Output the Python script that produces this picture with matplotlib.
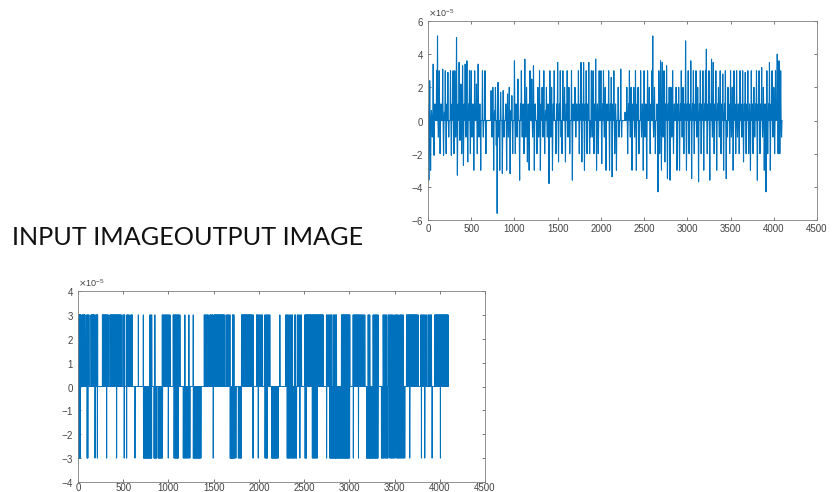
import matplotlib
matplotlib.use("Agg")
import matplotlib.pyplot as plt
import numpy as np
from matplotlib.ticker import ScalarFormatter

# input signal: one value every 10 samples (units of 1e-5), back to 0 in between
in_step = 10
in_vals = [
    1.0, -3.6, 2.4, -3.0, 0.6, -1.0, 3.4, -2.1, 1.0, 0,
    3.0, 5.1, -1.0, 3.0, -2.0, 1.0, 0, 3.1, -2.1, 0.5,
    3.0, -2.0, 1.0, 2.9, -1.0, 0, 3.0, -2.1, 1.0, 3.0,
    -2.0, 3.0, -1.0, 5.0, -3.3, 1.0, 3.5, -1.2, 2.2, -2.0,
    3.3, -2.7, 1.0, 3.4, -1.0, 3.6, -2.5, 1.0, 3.0, -2.0,
    3.0, -1.0, 1.0, -3.0, 3.0, 0, 2.2, -2.0, 3.4, -1.0,
    1.0, -3.0, 0, 3.0, -1.0, 0, 3.0, -2.0, 0, 0,
    0, 0, 0, 1.8, -1.0, 2.0, -3.0, 0.6, 2.0, -1.5,
    -5.6, 2.3, -1.0, -3.0, 1.7, 0, -3.2, 1.8, -1.0, 0,
    1.0, -3.0, 1.6, -1.0, 2.0, -3.2, 0.6, 1.5, -2.0, 0,
    3.6, -2.0, 1.0, -1.0, 2.5, 0, -3.6, 1.0, 3.0, -1.0,
    1.0, -2.0, 3.7, -1.0, 2.0, -2.5, 1.0, -3.0, 3.0, 0,
    2.5, -1.0, 3.3, -3.0, 1.0, 0, -2.0, 2.0, -1.0, 3.0,
    -3.0, 1.0, 2.0, -1.0, 3.0, -2.0, 0.6, 2.0, -1.0, 1.0,
    -3.8, 3.0, -1.0, 2.0, -3.0, 1.0, 3.0, 0, -2.0, 1.0,
    3.5, -2.5, 1.0, 3.0, -1.0, -2.0, 3.0, 0, 2.0, -2.5,
    1.0, 3.0, -1.0, 2.0, -2.0, 0, 3.0, -3.6, 1.0, 0,
    2.0, -1.0, 1.0, 0, 3.0, -2.0, 1.0, 3.5, -2.5, 1.0,
    3.5, -3.0, 1.0, 3.0, -2.0, 1.0, 3.5, -2.0, -1.0, 3.0,
    -1.0, 3.0, -2.0, 1.0, 3.7, -3.0, 1.0, -2.0, 3.0, 0,
    3.0, -2.6, 1.0, 3.0, -1.0, 2.0, -3.0, 1.0, 0, 3.0,
    -3.0, 1.0, 2.6, -3.4, 1.0, 3.0, -2.0, 1.0, -3.0, 0,
    2.0, -1.0, 0, 3.1, -1.0, 0, 0, 0, 0.5, 0,
    2.0, -2.0, 1.0, 3.0, -1.0, 2.0, -3.0, 1.0, 2.0, -1.0,
    3.0, -3.0, 1.0, 2.0, -2.0, 0, 3.0, -1.0, 1.0, -3.0,
    3.0, -1.0, 1.0, -3.5, 3.0, 0, 2.0, -2.0, 1.0, 3.0,
    5.1, -1.0, 2.0, -2.0, 0, 1.0, -4.3, 3.0, -2.0, 3.6,
    -3.0, 3.5, -1.0, 3.0, -2.5, 1.0, 3.3, -3.5, 1.0, 2.0,
    -3.6, 2.0, -1.0, 3.0, -2.0, 1.0, 0, 2.0, -3.0, 1.0,
    2.0, -3.0, 1.0, 3.0, -1.0, 2.0, -2.0, 1.0, 4.8, -3.0,
    1.0, 3.0, -2.0, 1.0, 3.6, -3.5, 1.0, 3.0, -2.0, 1.0,
    3.0, -1.0, 2.0, -3.7, 1.0, 3.0, -2.0, 1.0, 3.0, -3.0,
    1.0, 3.0, 4.3, -2.0, 1.0, 3.0, -3.6, 1.0, 3.7, -1.0,
    3.5, -2.0, 1.0, 3.0, -3.0, 1.0, 2.0, -1.0, 3.0, -2.0,
    1.0, 2.8, -3.0, 1.0, 3.0, -3.5, -1.0, 2.0, 1.0, -2.0,
    3.0, -1.0, 2.0, -3.0, 3.0, 1.0, -2.0, 3.0, -1.0, 1.0,
    -2.0, 3.0, 1.0, -1.0, 3.0, -2.5, 1.0, 2.9, -2.0, 1.0,
    3.0, -2.0, 1.0, -3.0, 3.0, 1.0, -2.0, 2.0, -1.0, 1.0,
    3.0, -3.6, 1.0, 3.0, -2.0, 1.0, 3.2, -1.0, 2.0, -3.0,
    1.0, -4.3, 3.0, -2.0, 1.0, 3.5, -3.0, 1.0, 3.0, -1.0,
    2.0, -2.0, 3.0, 1.0, 4.0, -2.0, 3.6, -2.0, 3.0, -1.0,
]

# output signal: sample positions at +3e-5 and -3e-5, zero elsewhere
out_len = 4096
out_level = 3.0
out_up = [
    10, 16, 22, 28, 33, 48, 54, 60, 66, 72, 77, 96, 104, 112, 121,
    144, 150, 156, 163, 170, 176, 180, 195, 203, 210, 217,
    270, 277, 284, 291, 298, 305, 312, 319, 326, 335,
    354, 361, 368, 375, 382, 389, 396, 403, 410, 417, 424, 431, 438, 445,
    452, 459, 466, 473, 483,
    500, 508, 516, 540, 548, 556, 565, 585, 593, 600, 667, 722, 795, 805,
    815, 850,
    932, 941, 950, 959, 968, 978, 988, 997, 1006, 1017,
    1053, 1061, 1069, 1077, 1085, 1093, 1101, 1109, 1117, 1127,
    1182, 1226, 1274, 1396, 1405, 1414, 1423, 1432, 1440,
    1458, 1466, 1474, 1482, 1488,
    1502, 1509, 1516, 1523, 1530, 1537, 1544, 1551, 1558, 1565, 1572,
    1579, 1586, 1593, 1600, 1607, 1614, 1624,
    1643, 1652, 1661, 1670, 1680, 1709, 1716, 1724,
    1808, 1815, 1822, 1829, 1836, 1843, 1850, 1857, 1864, 1871, 1878,
    1885, 1892, 1899, 1906, 1913, 1920, 1928, 1937,
    1974, 1982, 1990, 2000, 2010, 2020, 2030, 2040,
    2066, 2075, 2084, 2093, 2102, 2112, 2121,
    2232, 2298, 2307, 2316, 2326, 2338, 2350, 2362, 2372,
    2397, 2406, 2416, 2426, 2436, 2446, 2458, 2471,
    2508, 2515, 2522, 2529, 2536, 2543, 2550, 2557, 2564, 2571, 2578,
    2585, 2592, 2599, 2606, 2613, 2620, 2627, 2634, 2641, 2648, 2655,
    2662, 2669, 2676, 2683, 2690, 2697, 2704, 2710,
    2747, 2756, 2766, 2776, 2786, 2796, 2803, 2821, 2830, 2840, 2850, 2858,
    2913, 2920, 2927, 2934, 2941, 2948, 2955, 2962, 2969, 2976, 2983,
    2990, 2997, 3005,
    3042, 3050, 3058, 3066, 3074, 3082, 3090, 3098, 3106, 3114, 3122,
    3130, 3140, 3150, 3160, 3171,
    3208, 3217, 3226, 3263, 3272, 3281, 3290, 3299, 3308, 3318,
    3374, 3383, 3392, 3402, 3411, 3429, 3438, 3447, 3456, 3465, 3474, 3484,
    3503, 3512, 3521, 3530, 3539, 3558, 3567, 3576, 3585, 3594,
    3632, 3639, 3646, 3653, 3660, 3667, 3674, 3681, 3688, 3695, 3702,
    3709, 3716, 3723, 3730, 3737, 3744, 3751, 3760,
    3790, 3800, 3810, 3820, 3830, 3840, 3853, 3871, 3880, 3890, 3900,
    3908, 3915,
    3945, 3952, 3959, 3966, 3973, 3980, 3987, 3994, 4001, 4008, 4015,
    4022, 4029, 4036, 4043, 4050, 4057, 4064, 4071, 4078, 4085, 4092,
]
out_dn = [
    5, 13, 19, 25, 101, 109, 188, 214, 317, 427, 511, 538, 630,
    724, 731, 738, 745, 752, 759, 766, 773, 780, 787, 794, 801, 808, 814,
    841, 848, 856, 863, 870, 888, 895, 902, 910, 918, 925, 934, 998,
    1062, 1070, 1078, 1086, 1094, 1102, 1106, 1164, 1174, 1184, 1194,
    1204, 1214, 1224, 1237,
    1275, 1281, 1288, 1295, 1302, 1309, 1316, 1323, 1330, 1337, 1344,
    1351, 1359,
    1495, 1683, 1689, 1695, 1701, 1707, 1713, 1719, 1727, 1735, 1746,
    1773, 1781, 1791, 1799, 1805,
    1935, 1993, 2068, 2078, 2087, 2091,
    2141, 2148, 2155, 2162, 2169, 2176, 2183, 2190, 2197, 2204, 2213,
    2313, 2321, 2329, 2337, 2345, 2354, 2364, 2374, 2381, 2390, 2399,
    2409, 2416, 2453, 2511, 2518, 2525,
    2591, 2601, 2609, 2618, 2626, 2636, 2645, 2749,
    2784, 2791, 2799, 2806, 2812, 2819, 2826, 2833, 2842, 2847, 2854,
    2861, 2868, 2875, 2882, 2889, 2896, 2903, 2910, 2917, 2924, 2931,
    2938, 2945, 2952, 2959, 2966, 2973, 2980, 2987, 2994, 3003,
    3044, 3101, 3191, 3197, 3204, 3211, 3219, 3225, 3232, 3239, 3246,
    3253, 3260, 3267, 3274, 3284, 3288, 3295, 3302, 3311, 3316,
    3355, 3364, 3373, 3381, 3391, 3400, 3410, 3420, 3427, 3449, 3458,
    3467, 3476, 3486, 3494, 3505,
    3523, 3533, 3543, 3550, 3560, 3570, 3580, 3590, 3600, 3613, 3668,
    3797, 3834, 3915, 4007,
]

blue = "#0072BD"
tick_col = "#444444"
plt.rcParams["axes.unicode_minus"] = False
plt.rcParams["font.family"] = ["Liberation Sans", "DejaVu Sans"]

# each input value is followed half a step later by a zero sample
y_in = np.zeros(2 * len(in_vals))
y_in[::2] = np.array(in_vals) * 1e-5
x_in = np.arange(len(y_in)) * (in_step / 2)

y_out = np.zeros(out_len)
y_out[out_up] = out_level * 1e-5
y_out[out_dn] = -out_level * 1e-5
x_out = np.arange(out_len)

fig = plt.figure(figsize=(8.32, 4.92), dpi=100)


def style(ax, yticks, xpad=3):
    ax.set_xlim(0, 4500)
    ax.set_xticks(np.arange(0, 4501, 500))
    ax.set_yticks(np.array(yticks) * 1e-5)
    ax.set_ylim(yticks[0] * 1e-5, yticks[-1] * 1e-5)
    fmt = ScalarFormatter(useMathText=True)
    fmt.set_powerlimits((-3, 3))
    ax.yaxis.set_major_formatter(fmt)
    ax.tick_params(direction="in", length=2.5, width=0.5, top=True,
                   right=True, labelsize=7, colors=tick_col, pad=3)
    ax.tick_params(axis="x", pad=xpad)
    off = ax.yaxis.get_offset_text()
    off.set_fontsize(6.5)
    off.set_color(tick_col)
    for sp in ax.spines.values():
        sp.set_color("#808080")
        sp.set_linewidth(0.6)


# top: input
ax1 = fig.add_axes([428 / 832, 1 - 220 / 492, 389 / 832, 199 / 492])
ax1.plot(x_in, y_in, color=blue, lw=0.8)
style(ax1, [-6, -4, -2, 0, 2, 4, 6])

# bottom: output
ax2 = fig.add_axes([78 / 832, 1 - 482 / 492, 407 / 832, 191 / 492])
ax2.plot(x_out, y_out, color=blue, lw=0.7)
style(ax2, [-4, -3, -2, -1, 0, 1, 2, 3, 4], xpad=0.5)

fig.text(12 / 832, 1 - 245 / 492, "INPUT IMAGEOUTPUT IMAGE",
         fontsize=18.2, family=["Lato", "DejaVu Sans"], color="#111111",
         ha="left", va="baseline")

fig.savefig("out.png", dpi=100)
